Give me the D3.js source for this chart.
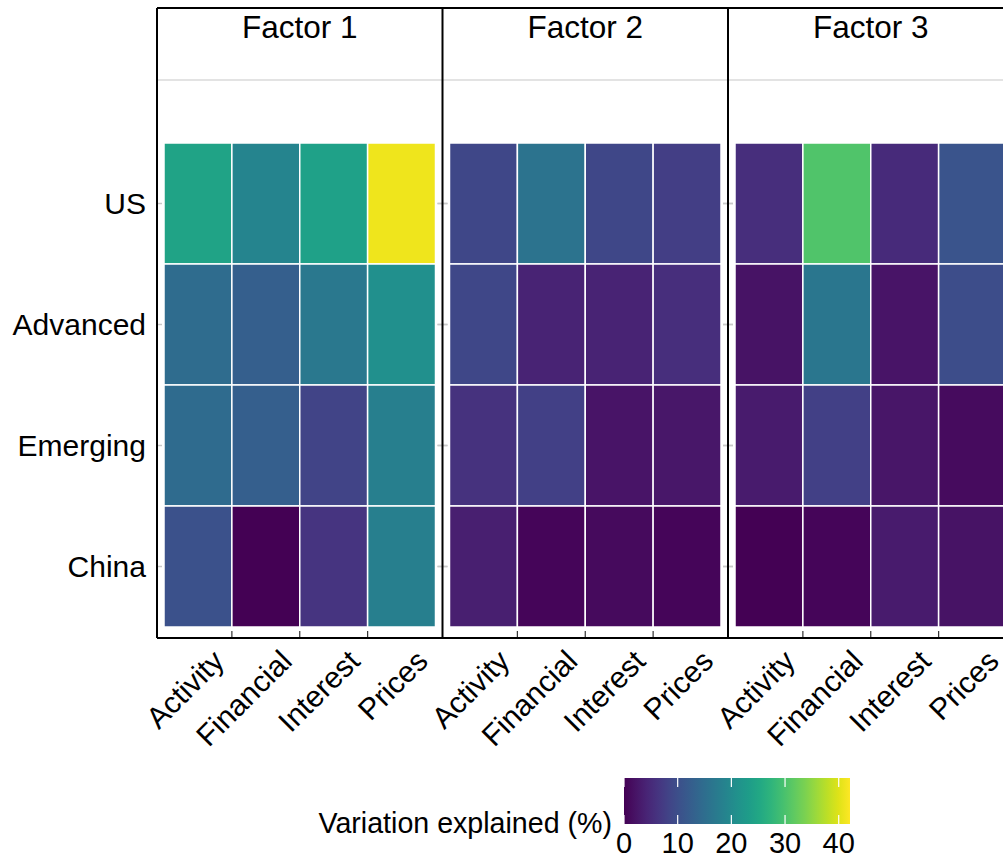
<!DOCTYPE html>
<html>
<head>
<meta charset="utf-8">
<script src="https://cdn.jsdelivr.net/npm/d3@7"></script>
<style>
  html, body { margin: 0; padding: 0; background: #fff; }
  svg { display: block; font-family: "Liberation Sans", Arial, sans-serif; }
</style>
</head>
<body>
<svg id="chart" width="1003" height="859"></svg>
<script>
// ---- data ----
const factors = ["Factor 1", "Factor 2", "Factor 3"];
const variables = ["Activity", "Financial", "Interest", "Prices"];
const regions = ["US", "Advanced", "Emerging", "China"];
// values: [region][variable], % variation explained
const factor1 = [
  [24.5, 19.0, 24.0, 41.0],
  [14.7, 12.5, 16.8, 21.0],
  [14.5, 12.5, 8.5, 18.0],
  [10.5, 0.0, 6.3, 18.0]
];
const factor2 = [
  [9.0, 16.0, 9.0, 7.6],
  [9.0, 4.0, 4.0, 5.5],
  [6.0, 8.0, 2.2, 2.5],
  [3.5, 0.5, 1.0, 0.5]
];
const factor3 = [
  [5.5, 30.5, 5.0, 11.0],
  [2.0, 16.5, 2.2, 9.8],
  [3.0, 8.0, 2.4, 1.2],
  [0.1, 0.6, 3.0, 2.0]
];
const factorValues = [factor1, factor2, factor3];
const legendTicks = [0, 10, 20, 30, 40];
const legendTitle = "Variation explained (%)";
const colorDomain = [0, 42.1];

// ---- layout ----
const svg = d3.select("#chart");
const fs = 30;
const panelLeft = 157, panelW = 285.5, panelTop = 8, stripBottom = 80, panelBottom = 638;
const pad = 7;

const color = d3.scaleSequential(d3.interpolateViridis).domain(colorDomain);
const yScale = d3.scaleBand().domain(regions).range([143, 627]);
const panelX = d3.scaleBand().domain(factors).range([panelLeft, panelLeft + panelW * 3]);

factors.forEach((f, fi) => {
  const x0 = panelX(f);
  const xScale = d3.scaleBand().domain(variables).range([x0 + pad, x0 + panelW - pad]);
  const g = svg.append("g");
  const rows = factorValues[fi];
  const cells = [];
  regions.forEach((r, ri) => variables.forEach((v, vi) => cells.push({r, v, val: rows[ri][vi]})));
  g.selectAll("rect.cell").data(cells).join("rect")
    .attr("class", "cell")
    .attr("x", d => xScale(d.v))
    .attr("y", d => yScale(d.r))
    .attr("width", xScale.bandwidth())
    .attr("height", yScale.bandwidth())
    .attr("fill", d => color(d.val))
    .attr("stroke", "#fff")
    .attr("stroke-width", 1.5);

  // strip text
  g.append("text").attr("x", x0 + panelW / 2).attr("y", 38)
    .attr("text-anchor", "middle").attr("font-size", 31.5).attr("fill", "#000").text(f);
  // strip separator
  g.append("line").attr("x1", x0).attr("x2", x0 + panelW).attr("y1", stripBottom).attr("y2", stripBottom)
    .attr("stroke", "#c8c8c8").attr("stroke-width", 1.2);

  // x ticks (at right edge of each band, inward) and rotated labels
  variables.forEach((v, vi) => {
    const tx = xScale(v) + xScale.bandwidth();
    if (vi < variables.length - 1) {
      g.append("line").attr("x1", tx).attr("x2", tx).attr("y1", panelBottom - 7).attr("y2", panelBottom)
        .attr("stroke", "#333").attr("stroke-width", 1.2);
    }
    g.append("text")
      .attr("transform", `translate(${tx - 6},${panelBottom + 25}) rotate(-45)`)
      .attr("text-anchor", "end")
      .attr("font-size", fs).attr("fill", "#000").text(v);
  });

  // y ticks (grey) at row centres on borders
  regions.forEach(r => {
    const ty = yScale(r) + yScale.bandwidth() / 2;
    g.append("line").attr("x1", x0 - (fi === 0 ? 0 : 5)).attr("x2", x0 + 5).attr("y1", ty).attr("y2", ty)
      .attr("stroke", "#c8c8c8").attr("stroke-width", 1.5);
    g.append("line").attr("x1", x0 + panelW - 5).attr("x2", x0 + panelW + 5).attr("y1", ty).attr("y2", ty)
      .attr("stroke", "#c8c8c8").attr("stroke-width", 1.5);
  });
});

// panel borders
factors.forEach(f => {
  const x0 = panelX(f);
  svg.append("line").attr("x1", x0).attr("x2", x0).attr("y1", panelTop).attr("y2", panelBottom)
    .attr("stroke", "#000").attr("stroke-width", 2);
});
svg.append("line").attr("x1", panelLeft).attr("x2", 1003).attr("y1", panelTop).attr("y2", panelTop)
  .attr("stroke", "#000").attr("stroke-width", 2);
svg.append("line").attr("x1", panelLeft).attr("x2", 1003).attr("y1", panelBottom).attr("y2", panelBottom)
  .attr("stroke", "#000").attr("stroke-width", 2);

// y axis labels
svg.append("g").selectAll("text").data(regions).join("text")
  .attr("x", 146).attr("y", d => yScale(d) + yScale.bandwidth() / 2)
  .attr("dy", "0.36em").attr("text-anchor", "end")
  .attr("font-size", fs).attr("fill", "#000").text(d => d);

// ---- legend ----
const lgX0 = 624, lgX1 = 850, lgY = 778, lgH = 46;
const lgScale = d3.scaleLinear().domain(colorDomain).range([lgX0, lgX1]);
const defs = svg.append("defs");
const grad = defs.append("linearGradient").attr("id", "vgrad").attr("x1", "0%").attr("x2", "100%");
d3.range(0, 1.0001, 0.05).forEach(t => {
  grad.append("stop").attr("offset", (t * 100) + "%").attr("stop-color", d3.interpolateViridis(t));
});
svg.append("rect").attr("x", lgX0).attr("y", lgY).attr("width", lgX1 - lgX0).attr("height", lgH)
  .attr("fill", "url(#vgrad)");
legendTicks.forEach(t => {
  const x = lgScale(t);
  svg.append("line").attr("x1", x).attr("x2", x).attr("y1", lgY).attr("y2", lgY + 9)
    .attr("stroke", "#fff").attr("stroke-width", 1.2);
  svg.append("line").attr("x1", x).attr("x2", x).attr("y1", lgY + lgH - 9).attr("y2", lgY + lgH)
    .attr("stroke", "#fff").attr("stroke-width", 1.2);
  svg.append("text").attr("x", x).attr("y", 853).attr("text-anchor", "middle")
    .attr("font-size", 29).attr("fill", "#000").text(t);
});
svg.append("text").attr("x", 612).attr("y", 833).attr("text-anchor", "end")
  .attr("font-size", 28.6).attr("fill", "#000").text(legendTitle);
</script>
</body>
</html>
